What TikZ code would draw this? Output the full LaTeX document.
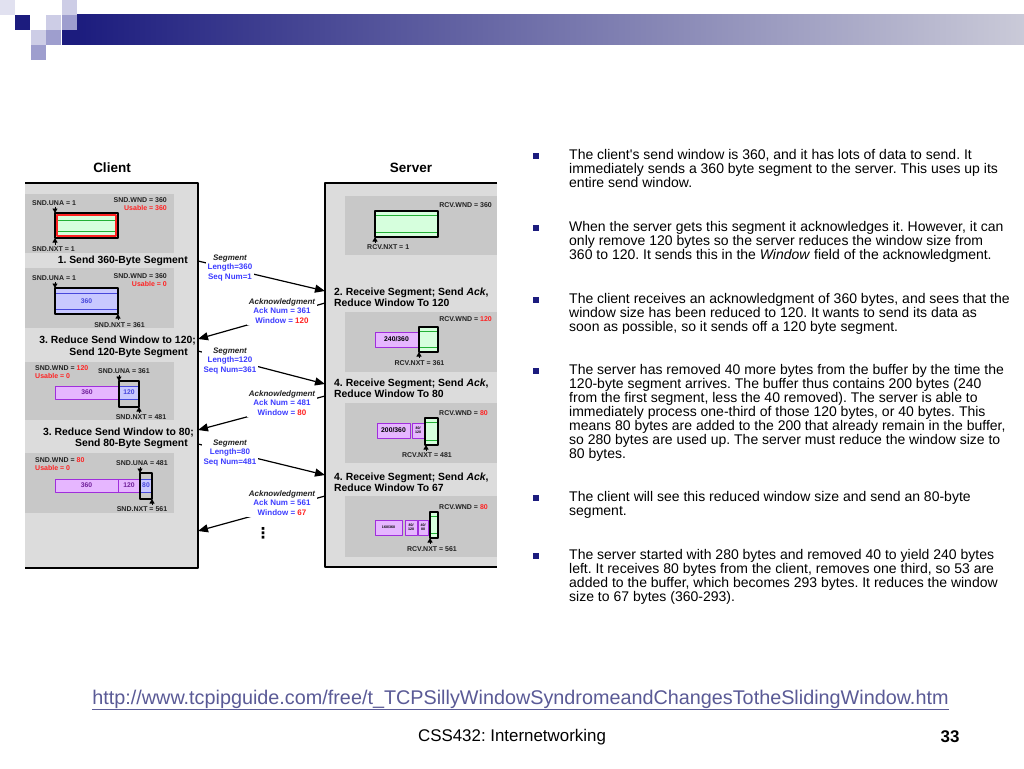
\documentclass[tikz,border=0pt]{standalone}
\usepackage{fontspec}
\setmainfont{Liberation Sans}
\newfontfamily\symfont{DejaVu Sans}
\usetikzlibrary{arrows.meta}
\frenchspacing

\definecolor{navy}{HTML}{1C1C7E}
\definecolor{barend}{HTML}{CACAD8}
\definecolor{sqlight}{HTML}{CDCDE6}
\definecolor{sqmid}{HTML}{9E9ECE}
\definecolor{boxgrey}{HTML}{DCDCDC}
\definecolor{panelgrey}{HTML}{C8C8C8}
\definecolor{labgrey}{HTML}{222222}
\definecolor{mint}{HTML}{D6FFDD}
\definecolor{gline}{HTML}{22B034}
\definecolor{lav}{HTML}{C8C8FF}
\definecolor{lavdark}{HTML}{4646DC}
\definecolor{vio}{HTML}{E6B6FF}
\definecolor{viodark}{HTML}{A02EDC}
\definecolor{msgblue}{HTML}{3C3CFF}
\definecolor{wred}{HTML}{FF2222}
\definecolor{urlc}{HTML}{5A5A96}

% fenster mit gruenem inhalt: x1 y1 x2 y2
\newcommand\mintwin[4]{%
  \fill[mint] (#1,#2) rectangle (#3,#4);
  \draw[gline,line width=1pt] (#1,#2+4.5) -- (#3,#2+4.5) (#1,#4-4.5) -- (#3,#4-4.5);
  \draw[winbox] (#1,#2) rectangle (#3,#4);}

\begin{document}
\begin{tikzpicture}[x=1pt,y=-1pt,line join=round,
    lbl/.style={font=\fontsize{7}{8}\selectfont\bfseries,inner sep=0pt,text=labgrey},
    steplbl/.style={font=\fontsize{10.4}{11.5}\selectfont\bfseries,inner sep=0pt,align=left},
    msg/.style={font=\fontsize{8}{9.8}\selectfont\bfseries,align=center,fill=white,inner sep=1.5pt,text=msgblue},
    msgarrow/.style={-{Triangle[length=10pt,width=8pt]},line width=1.2pt},
    ptr/.style={-{Triangle[length=4.5pt,width=5pt]},line width=0.9pt},
    winbox/.style={draw=black,line width=1.4pt},
    viobar/.style={draw=viodark,fill=vio,line width=1pt},
    lavbar/.style={draw=lavdark,fill=lav,line width=1pt},
    bartext/.style={font=\fontsize{6.8}{8}\selectfont\bfseries,inner sep=0pt},
    tinytext/.style={font=\fontsize{3.6}{3.8}\selectfont\bfseries,inner sep=0pt,align=center},
    body/.style={font=\fontsize{14}{14}\selectfont,align=left,inner sep=0pt,anchor=north west}]

  \useasboundingbox[fill=white] (0,0) rectangle (1024,768);

  % ---- kopfzeile ----------------------------------------------------------
  \shade[left color=navy,right color=barend] (77,15) rectangle (1024,45);
  \fill[navy] (62,30) rectangle (77,45);
  \fill[navy] (15,15) rectangle (30,30);
  \fill[sqlight!60] (0,0) rectangle (15,15);
  \fill[sqlight] (62,0) rectangle (77,15);
  \fill[sqlight] (46,15) rectangle (61,30);
  \fill[sqmid] (62,15) rectangle (77,30);
  \fill[sqlight] (31,30) rectangle (46,45);
  \fill[sqmid] (46,30) rectangle (61,45);
  \fill[sqmid] (31,45) rectangle (46,60);

  % ---- client -------------------------------------------------------------
  \node[font=\fontsize{13.5}{15}\selectfont\bfseries] (client) at (112,168) {Client};
  \fill[boxgrey] (25,183) rectangle (198,568);
  \draw[line width=1.8pt] (25,183) -- (198,183) -- (198,568) -- (25,568);
  \fill[panelgrey] (25,194) rectangle (174,253);
  \fill[panelgrey] (25,268) rectangle (174,328);
  \fill[panelgrey] (25,362) rectangle (174,420);
  \fill[panelgrey] (25,453) rectangle (174,513);

  % schritt 1
  \node[lbl,anchor=west] (cuna1) at (32,203) {SND.UNA = 1};
  \node[lbl,anchor=east] (cwnd1) at (167,200) {SND.WND = 360};
  \node[lbl,anchor=east,text=wred] (cuse1) at (167,208) {Usable = 360};
  \fill[mint] (55,213) rectangle (118,238);
  \draw[gline,line width=1pt] (57,220) -- (116,220) (57,231) -- (116,231);
  \draw[wred,line width=1.7pt] (56.8,214.8) rectangle (116.2,236.2);
  \draw[winbox] (55,213) rectangle (118,238);
  \draw[ptr] (55,206.5) -- (55,213);
  \draw[ptr] (55,244.5) -- (55,238);
  \node[lbl,anchor=west] (cnxt1) at (32,249) {SND.NXT = 1};
  \node[steplbl,anchor=east] (step1) at (188,261) {1. Send 360-Byte Segment};

  % schritt 2
  \node[lbl,anchor=west] (cuna2) at (32,278) {SND.UNA = 1};
  \node[lbl,anchor=east] (cwnd2) at (167,276.5) {SND.WND = 360};
  \node[lbl,anchor=east,text=wred] (cuse2) at (167,284) {Usable = 0};
  \fill[lav] (55,288) rectangle (118,314);
  \draw[lavdark,line width=1pt] (55,293) -- (118,293) (55,309) -- (118,309);
  \draw[winbox] (55,288) rectangle (118,314);
  \node[bartext,text=lavdark] (cbuf2) at (86.5,301) {360};
  \draw[ptr] (55,282) -- (55,288);
  \draw[ptr] (118,320) -- (118,314);
  \node[lbl] (cnxt2) at (119.5,325) {SND.NXT = 361};
  \node[steplbl,anchor=east] (step3a) at (196,341) {3. Reduce Send Window to 120;};
  \node[steplbl,anchor=east] (step3b) at (188,353) {Send 120-Byte Segment};

  % schritt 3
  \node[lbl,anchor=west] (cwnd3) at (35,368) {SND.WND = \textcolor{wred}{120}};
  \node[lbl,anchor=west,text=wred] (cuse3) at (35,376) {Usable = 0};
  \node[lbl] (cuna3) at (124,371) {SND.UNA = 361};
  \draw[viobar] (55,386) rectangle (119,399);
  \node[bartext,text=viodark!70!black] (cbuf3a) at (87,392.5) {360};
  \draw[lavbar] (119,386) rectangle (139,399);
  \node[bartext,text=lavdark] (cbuf3b) at (129,392.5) {120};
  \draw[winbox] (119,381) rectangle (139,407);
  \draw[ptr] (119,375) -- (119,381);
  \draw[ptr] (139,413) -- (139,407);
  \node[lbl] (cnxt3) at (141,417) {SND.NXT = 481};
  \node[steplbl,anchor=east] (step5a) at (194,433) {3. Reduce Send Window to 80;};
  \node[steplbl,anchor=east] (step5b) at (188,444) {Send 80-Byte Segment};

  % schritt 4
  \node[lbl,anchor=west] (cwnd4) at (35,460) {SND.WND = \textcolor{wred}{80}};
  \node[lbl,anchor=west,text=wred] (cuse4) at (35,468) {Usable = 0};
  \node[lbl] (cuna4) at (142,463) {SND.UNA = 481};
  \draw[viobar] (55,479) rectangle (118,492);
  \node[bartext,text=viodark!70!black] (cbuf4a) at (86.5,485.5) {360};
  \draw[viobar] (118,479) rectangle (140,492);
  \node[bartext,text=viodark!70!black] (cbuf4b) at (129,485.5) {120};
  \draw[lavbar] (140,479) rectangle (152,492);
  \node[bartext,text=lavdark] (cbuf4c) at (146,485.5) {80};
  \draw[winbox] (140,473) rectangle (152,499);
  \draw[ptr] (140,467) -- (140,473);
  \draw[ptr] (152,505) -- (152,499);
  \node[lbl] (cnxt4) at (142,509) {SND.NXT = 561};

  % ---- server -------------------------------------------------------------
  \node[font=\fontsize{13.5}{15}\selectfont\bfseries] (server) at (411,168) {Server};
  \fill[boxgrey] (325,183) rectangle (497,567);
  \draw[line width=1.8pt] (497,183) -- (325,183) -- (325,567) -- (497,567);
  \fill[panelgrey] (345,196) rectangle (497,255);
  \fill[panelgrey] (345,312) rectangle (497,372);
  \fill[panelgrey] (345,403) rectangle (497,463);
  \fill[panelgrey] (345,496) rectangle (497,557);

  % empfang 1
  \node[lbl,anchor=east] (swnd1) at (492,205) {RCV.WND = 360};
  \mintwin{375}{211}{438}{237}
  \draw[ptr] (375,243) -- (375,237);
  \node[lbl,anchor=west] (snxt1) at (367,247) {RCV.NXT = 1};

  % empfang 2
  \node[steplbl,anchor=west] (step2) at (334,297.5) {2. Receive Segment; Send \textit{Ack},\\Reduce Window To 120};
  \node[lbl,anchor=east] (swnd2) at (492,319) {RCV.WND = \textcolor{wred}{120}};
  \draw[viobar] (375,332) rectangle (418,347);
  \node[bartext] (sbuf2) at (396.5,339.5) {240/360};
  \mintwin{419}{327}{438}{352}
  \draw[ptr] (419,358) -- (419,352);
  \node[lbl] (snxt2) at (419.5,363) {RCV.NXT = 361};

  % empfang 3
  \node[steplbl,anchor=west] (step4) at (334,388.5) {4. Receive Segment; Send \textit{Ack},\\Reduce Window To 80};
  \node[lbl,anchor=east] (swnd3) at (488,413) {RCV.WND = \textcolor{wred}{80}};
  \draw[viobar] (377,423) rectangle (410,438);
  \node[bartext] (sbuf3a) at (393.5,430.5) {200/360};
  \draw[viobar] (412,423) rectangle (424,438);
  \node[tinytext] (sbuf3b) at (418,430.5) {80/\\120};
  \mintwin{425}{418}{438}{445}
  \draw[ptr] (426,451) -- (426,445);
  \node[lbl] (snxt3) at (427,455) {RCV.NXT = 481};

  % empfang 4
  \node[steplbl,anchor=west] (step6) at (334,482.5) {4. Receive Segment; Send \textit{Ack},\\Reduce Window To 67};
  \node[lbl,anchor=east] (swnd4) at (488,507) {RCV.WND = \textcolor{wred}{80}};
  \draw[viobar] (375,520) rectangle (402,535);
  \node[tinytext] (sbuf4a) at (388.5,527.5) {160/360};
  \draw[viobar] (405,520) rectangle (417,535);
  \node[tinytext] (sbuf4b) at (411,527.5) {80/\\120};
  \draw[viobar] (418,520) rectangle (428,535);
  \node[tinytext] (sbuf4c) at (423,527.5) {40/\\80};
  \mintwin{430}{512}{438}{538}
  \draw[ptr] (430,544) -- (430,538);
  \node[lbl] (snxt4) at (432,549) {RCV.NXT = 561};

  % ---- segmente und quittungen --------------------------------------------
  \coordinate (cseg1) at (198,261);  \coordinate (sseg1) at (325,291);
  \coordinate (sack1) at (325,303);  \coordinate (cack1) at (198,339);
  \coordinate (cseg2) at (198,351);  \coordinate (sseg2) at (325,384);
  \coordinate (sack2) at (325,396);  \coordinate (cack2) at (198,430);
  \coordinate (cseg3) at (198,444);  \coordinate (sseg3) at (325,475);
  \coordinate (sack3) at (325,496);  \coordinate (cack3) at (198,531);
  \draw[msgarrow] (cseg1) -- (sseg1);
  \draw[msgarrow] (sack1) -- (cack1);
  \draw[msgarrow] (cseg2) -- (sseg2);
  \draw[msgarrow] (sack2) -- (cack2);
  \draw[msgarrow] (cseg3) -- (sseg3);
  \draw[msgarrow] (sack3) -- (cack3);

  \node[msg] (mseg1) at (230,268) {\textcolor{labgrey}{\itshape Segment}\\Length=360\\Seq Num=1};
  \node[msg] (mack1) at (282,311) {\textcolor{labgrey}{\itshape Acknowledgment}\\Ack Num = 361\\Window = \textcolor{wred}{120}};
  \node[msg] (mseg2) at (230,361) {\textcolor{labgrey}{\itshape Segment}\\Length=120\\Seq Num=361};
  \node[msg] (mack2) at (282,403) {\textcolor{labgrey}{\itshape Acknowledgment}\\Ack Num = 481\\Window = \textcolor{wred}{80}};
  \node[msg] (mseg3) at (230,453) {\textcolor{labgrey}{\itshape Segment}\\Length=80\\Seq Num=481};
  \node[msg] (mack3) at (282,503) {\textcolor{labgrey}{\itshape Acknowledgment}\\Ack Num = 561\\Window = \textcolor{wred}{67}};
  \node[font=\symfont\fontsize{15}{16}\selectfont\bfseries,inner sep=0pt] (dots) at (263,533) {⋮};

  % ---- erlaeuterungen -----------------------------------------------------
  \foreach \by in {156,228,300,371,498,556}
    \fill[navy] (533,\by-3) rectangle (539,\by+3);
  \node[body] (p1) at (569,149.5) {The client\textquotesingle s send window is 360, and it has lots of data to send. It\\immediately sends a 360 byte segment to the server. This uses up its\\entire send window.};
  \node[body] (p2) at (569,221.5) {When the server gets this segment it acknowledges it. However, it can\\only remove 120 bytes so the server reduces the window size from\\360 to 120. It sends this in the \textit{Window} field of the acknowledgment.};
  \node[body] (p3) at (569,293.5) {The client receives an acknowledgment of 360 bytes, and sees that the\\window size has been reduced to 120. It wants to send its data as\\soon as possible, so it sends off a 120 byte segment.};
  \node[body] (p4) at (569,364.5) {The server has removed 40 more bytes from the buffer by the time the\\120-byte segment arrives. The buffer thus contains 200 bytes (240\\from the first segment, less the 40 removed). The server is able to\\immediately process one-third of those 120 bytes, or 40 bytes. This\\means 80 bytes are added to the 200 that already remain in the buffer,\\so 280 bytes are used up. The server must reduce the window size to\\80 bytes.};
  \node[body] (p5) at (569,491.5) {The client will see this reduced window size and send an 80-byte\\segment.};
  \node[body] (p6) at (569,549.5) {The server started with 280 bytes and removed 40 to yield 240 bytes\\left. It receives 80 bytes from the client, removes one third, so 53 are\\added to the buffer, which becomes 293 bytes. It reduces the window\\size to 67 bytes (360-293).};

  % ---- fusszeile ----------------------------------------------------------
  \node[font=\fontsize{19.8}{21}\selectfont,text=urlc] (url) at (520.5,700) {\underline{http://www.tcpipguide.com/free/t\_TCPSillyWindowSyndromeandChangesTotheSlidingWindow.htm}};
  \node[font=\fontsize{16.9}{18}\selectfont] (course) at (512,737) {CSS432: Internetworking};
  \node[font=\fontsize{16.9}{18}\selectfont\bfseries] (page) at (950,737) {33};

\end{tikzpicture}
\end{document}
